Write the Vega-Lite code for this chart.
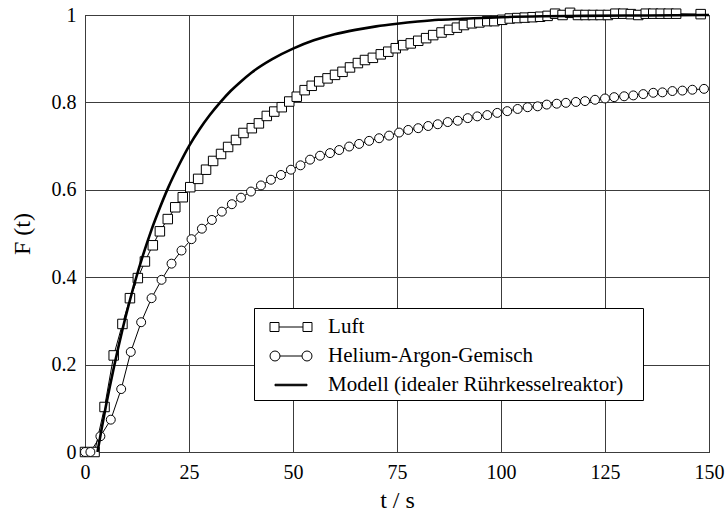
{
  "$schema": "https://vega.github.io/schema/vega-lite/v6.json",
  "width": 624,
  "height": 437,
  "autosize": "none",
  "padding": {"left": 85, "top": 15, "right": 19, "bottom": 59},
  "background": "white",
  "config": {
    "font": "Liberation Serif, Times New Roman, serif",
    "view": {"stroke": "black", "strokeWidth": 1},
    "axis": {
      "grid": true, "gridColor": "#3c3c3c", "gridWidth": 1, "gridOpacity": 1,
      "domain": false, "ticks": false,
      "labelFont": "Liberation Serif, Times New Roman, serif", "labelFontSize": 20, "labelColor": "black",
      "titleFont": "Liberation Serif, Times New Roman, serif", "titleFontSize": 24, "titleFontWeight": "normal", "titleColor": "black"
    }
  },
  "datasets": {
    "luft": [
      {"t":0,"F":0},{"t":2.3,"F":0},{"t":4.7,"F":0.103},{"t":6.9,"F":0.221},{"t":9.0,"F":0.293},{"t":10.8,"F":0.352},{"t":12.7,"F":0.398},{"t":14.4,"F":0.436},{"t":16.3,"F":0.473},{"t":18.0,"F":0.505},{"t":19.9,"F":0.533},{"t":21.7,"F":0.560},{"t":23.5,"F":0.583},{"t":25.3,"F":0.606},{"t":27.2,"F":0.625},{"t":29.1,"F":0.646},{"t":30.8,"F":0.666},{"t":32.7,"F":0.682},{"t":34.4,"F":0.698},{"t":36.3,"F":0.714},{"t":38.1,"F":0.730},{"t":40.1,"F":0.741},{"t":41.8,"F":0.752},{"t":43.7,"F":0.769},{"t":45.5,"F":0.779},{"t":47.3,"F":0.789},{"t":49.1,"F":0.802},{"t":50.9,"F":0.813},{"t":52.8,"F":0.828},{"t":54.5,"F":0.838},{"t":56.3,"F":0.848},{"t":58.3,"F":0.855},{"t":60.1,"F":0.863},{"t":61.9,"F":0.870},{"t":63.7,"F":0.880},{"t":65.6,"F":0.890},{"t":67.3,"F":0.897},{"t":69.2,"F":0.902},{"t":71.1,"F":0.910},{"t":72.9,"F":0.916},{"t":74.7,"F":0.924},{"t":76.5,"F":0.931},{"t":78.3,"F":0.935},{"t":80.1,"F":0.941},{"t":82.0,"F":0.947},{"t":83.7,"F":0.954},{"t":85.7,"F":0.960},{"t":87.5,"F":0.966},{"t":89.4,"F":0.971},{"t":91.1,"F":0.977},{"t":93.0,"F":0.981},{"t":94.8,"F":0.983},{"t":96.7,"F":0.986},{"t":98.4,"F":0.986},{"t":100.3,"F":0.989},{"t":102.1,"F":0.992},{"t":103.9,"F":0.993},{"t":105.7,"F":0.994},{"t":107.6,"F":0.995},{"t":109.4,"F":0.996},{"t":111.2,"F":0.998},{"t":113.0,"F":1.003},{"t":114.8,"F":1.0},{"t":116.6,"F":1.005},{"t":118.5,"F":1.0},{"t":120.3,"F":1.0},{"t":122.1,"F":1.0},{"t":123.9,"F":1.0},{"t":125.7,"F":1.0},{"t":127.5,"F":1.003},{"t":129.4,"F":1.003},{"t":131.2,"F":1.002},{"t":133.0,"F":1.0},{"t":134.8,"F":1.003},{"t":136.6,"F":1.003},{"t":138.4,"F":1.003},{"t":140.3,"F":1.003},{"t":142.1,"F":1.003},{"t":148.0,"F":1.002}
    ],
    "he": [
      {"t":0,"F":0},{"t":1.3,"F":0},{"t":3.7,"F":0.036},{"t":6.2,"F":0.074},{"t":8.7,"F":0.144},{"t":11.0,"F":0.229},{"t":13.5,"F":0.297},{"t":16.0,"F":0.352},{"t":18.4,"F":0.394},{"t":20.8,"F":0.431},{"t":23.2,"F":0.461},{"t":25.6,"F":0.487},{"t":28.1,"F":0.511},{"t":30.5,"F":0.531},{"t":32.9,"F":0.550},{"t":35.3,"F":0.567},{"t":37.5,"F":0.582},{"t":39.9,"F":0.596},{"t":42.3,"F":0.610},{"t":44.7,"F":0.623},{"t":47.1,"F":0.634},{"t":49.5,"F":0.646},{"t":51.8,"F":0.656},{"t":54.1,"F":0.669},{"t":56.5,"F":0.678},{"t":58.9,"F":0.684},{"t":61.1,"F":0.691},{"t":63.5,"F":0.699},{"t":65.9,"F":0.705},{"t":68.3,"F":0.712},{"t":70.7,"F":0.718},{"t":73.1,"F":0.724},{"t":75.5,"F":0.731},{"t":77.7,"F":0.737},{"t":80.1,"F":0.741},{"t":82.5,"F":0.746},{"t":84.8,"F":0.750},{"t":87.2,"F":0.755},{"t":89.6,"F":0.758},{"t":92.0,"F":0.764},{"t":94.3,"F":0.768},{"t":96.7,"F":0.771},{"t":99.1,"F":0.776},{"t":101.5,"F":0.780},{"t":104.0,"F":0.785},{"t":106.4,"F":0.789},{"t":108.8,"F":0.791},{"t":111.0,"F":0.795},{"t":113.4,"F":0.797},{"t":115.6,"F":0.799},{"t":118.0,"F":0.801},{"t":120.2,"F":0.803},{"t":122.6,"F":0.806},{"t":125.0,"F":0.809},{"t":127.2,"F":0.812},{"t":129.6,"F":0.814},{"t":131.8,"F":0.816},{"t":134.2,"F":0.819},{"t":136.6,"F":0.822},{"t":138.8,"F":0.823},{"t":141.2,"F":0.826},{"t":143.6,"F":0.827},{"t":146.0,"F":0.829},{"t":148.8,"F":0.831}
    ],
    "model": [
      {"t":3,"F":0},{"t":4,"F":0.053},{"t":5,"F":0.104},{"t":6,"F":0.151},{"t":7,"F":0.196},{"t":8,"F":0.239},{"t":9,"F":0.280},{"t":10,"F":0.318},{"t":12,"F":0.389},{"t":14,"F":0.452},{"t":16,"F":0.509},{"t":18,"F":0.559},{"t":20,"F":0.605},{"t":22.5,"F":0.655},{"t":25,"F":0.700},{"t":27.5,"F":0.738},{"t":30,"F":0.771},{"t":32.5,"F":0.800},{"t":35,"F":0.826},{"t":37.5,"F":0.848},{"t":40,"F":0.868},{"t":45,"F":0.899},{"t":50,"F":0.923},{"t":55,"F":0.942},{"t":60,"F":0.956},{"t":65,"F":0.966},{"t":70,"F":0.974},{"t":75,"F":0.980},{"t":80,"F":0.985},{"t":85,"F":0.989},{"t":90,"F":0.991},{"t":100,"F":0.995},{"t":110,"F":0.997},{"t":120,"F":0.998},{"t":135,"F":0.999},{"t":150,"F":1.0}
    ]
  },
  "encoding": {
    "x": {"field": "t", "type": "quantitative",
      "scale": {"domain": [0, 150], "nice": false, "zero": false},
      "axis": {"values": [0, 25, 50, 75, 100, 125, 150], "labelPadding": 10, "labelFlush": false, "title": "t / s", "titlePadding": 6}},
    "y": {"field": "F", "type": "quantitative",
      "scale": {"domain": [0, 1], "nice": false},
      "axis": {"values": [0, 0.2, 0.4, 0.6, 0.8, 1], "format": "~g", "labelPadding": 9, "title": "F (t)", "titlePadding": 17}}
  },
  "layer": [
    {
      "data": {"name": "luft"},
      "mark": {"type": "line", "strokeWidth": 1},
      "encoding": {
        "color": {"datum": "Luft", "type": "nominal",
          "scale": {"domain": ["Luft", "Helium-Argon-Gemisch", "Modell (idealer Rührkesselreaktor)"], "range": ["black", "black", "black"]},
          "legend": {
            "title": "\u00a0", "titleOrient": "right", "titleFontSize": 1, "titlePadding": 15,
            "orient": "none", "legendX": 169, "legendY": 293,
            "fillColor": "white", "strokeColor": "black", "padding": 5,
            "labelFont": "Liberation Serif, Times New Roman, serif", "labelFontSize": 21, "labelColor": "black", "labelBaseline": "middle", "labelLimit": 0,
            "symbolSize": 729, "symbolStrokeWidth": 1, "symbolStrokeColor": "black",
            "symbolOffset": 10.5, "labelOffset": 30.6, "rowPadding": 5,
            "encode": {
              "symbols": {
                "update": {
                  "shape": {"signal": "datum.value === 'Luft' ? 'M-1,-0.333H-0.333V0.333H-1Z M-0.333,0H1.444 M1.444,-0.333H2.111V0.333H1.444Z' : datum.value === 'Helium-Argon-Gemisch' ? 'M-0.26,0A0.37,0.37,0,1,1,-1,0A0.37,0.37,0,1,1,-0.26,0Z M-0.26,0H1.371 M2.111,0A0.37,0.37,0,1,1,1.371,0A0.37,0.37,0,1,1,2.111,0Z' : 'M-0.63,-0.056H1.74V0.056H-0.63Z'"},
                  "fill": {"signal": "datum.value === 'Luft' || datum.value === 'Helium-Argon-Gemisch' ? 'white' : 'black'"},
                  "stroke": {"value": "black"},
                  "strokeWidth": {"value": 1},
                  "opacity": {"value": 1}
                }
              }
            }
          }
        }
      }
    },
    {
      "data": {"name": "he"},
      "mark": {"type": "line", "strokeWidth": 1},
      "encoding": {"color": {"datum": "Helium-Argon-Gemisch", "type": "nominal"}}
    },
    {
      "data": {"name": "luft"},
      "mark": {"type": "point", "shape": "square", "size": 90, "filled": true, "fill": "white", "stroke": "black", "strokeWidth": 1, "opacity": 1}
    },
    {
      "data": {"name": "he"},
      "mark": {"type": "point", "shape": "circle", "size": 80, "filled": true, "fill": "white", "stroke": "black", "strokeWidth": 1, "opacity": 1}
    },
    {
      "data": {"name": "model"},
      "mark": {"type": "line", "strokeWidth": 2.6, "interpolate": "monotone"},
      "encoding": {"color": {"datum": "Modell (idealer Rührkesselreaktor)", "type": "nominal"}}
    }
  ]
}
